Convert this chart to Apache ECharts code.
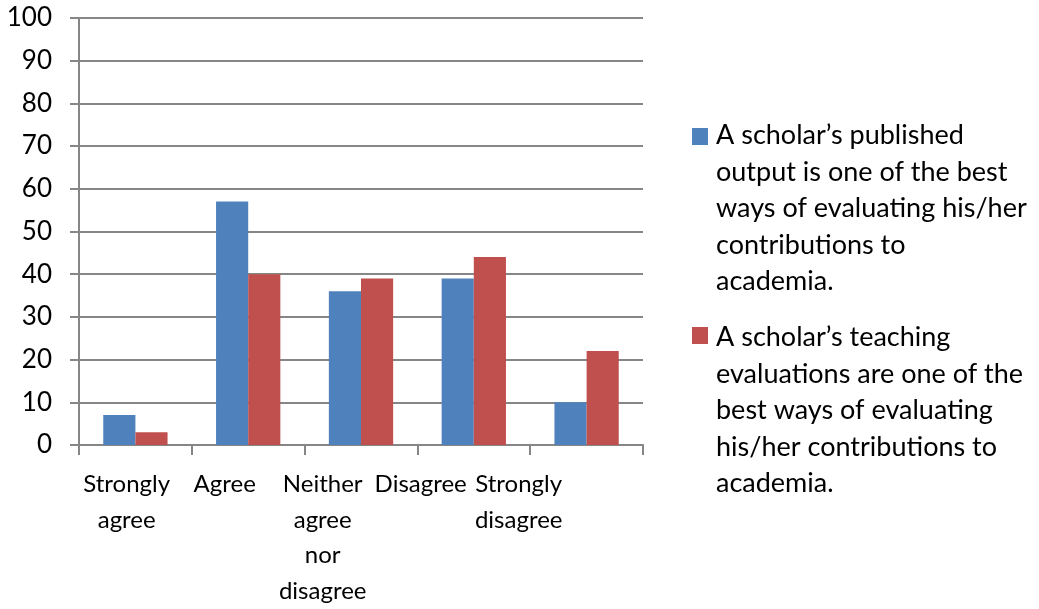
<!DOCTYPE html>
<html>
<head>
<meta charset="utf-8">
<script src="https://cdn.jsdelivr.net/npm/echarts@6/dist/echarts.min.js"></script>
<style>
html,body{margin:0;padding:0;background:#fff;}
#chart{width:1039px;height:609px;}
</style>
</head>
<body>
<div id="chart"></div>
<script>
const categories = ['Strongly\nagree', 'Agree', 'Neither\nagree\nnor\ndisagree', 'Disagree', 'Strongly\ndisagree'];
const seriesNames = [
  'A scholar\u2019s published\noutput is one of the best\nways of evaluating his/her\ncontributions to\nacademia.',
  'A scholar\u2019s teaching\nevaluations are one of the\nbest ways of evaluating\nhis/her contributions to\nacademia.'
];
const publishedValues = [7, 57, 36, 39, 10];
const teachingValues = [3, 40, 39, 44, 22];
const yTicks = [0, 10, 20, 30, 40, 50, 60, 70, 80, 90, 100];
const colors = ['#4F81BD', '#C0504D'];

const FONT = 'Lato';
const gridColor = '#868686';

const legendTops = [117, 319];
const iconTops = [128, 327];
const legendGraphics = [];
seriesNames.forEach((name, i) => {
  legendGraphics.push({
    type: 'rect', left: 692, top: iconTops[i], shape: { width: 16, height: 17 },
    style: { fill: colors[i] }
  });
  legendGraphics.push({
    type: 'text', left: 716, top: legendTops[i],
    style: { text: name, font: '27px ' + FONT, fill: '#000', lineHeight: 36.6 }
  });
});

const chart = echarts.init(document.getElementById('chart'), null, { renderer: 'canvas' });
chart.setOption({
  animation: false,
  backgroundColor: '#fff',
  textStyle: { fontFamily: FONT },
  grid: [
    { left: 79, right: 396, top: 18, bottom: 164, containLabel: false },
    { left: 77.7, width: 490, top: 18, bottom: 164, containLabel: false }
  ],
  xAxis: [
    {
      type: 'category', data: categories, gridIndex: 0,
      axisLine: { show: true, lineStyle: { color: gridColor, width: 2 } },
      axisTick: { show: true, length: 10, lineStyle: { color: gridColor, width: 2 } },
      axisLabel: { show: false }
    },
    {
      type: 'category', data: categories, gridIndex: 1,
      axisLine: { show: false }, axisTick: { show: false },
      axisLabel: { show: true, interval: 0, margin: 22, fontFamily: FONT, fontSize: 24, color: '#000', lineHeight: 35.5, align: 'center' }
    }
  ],
  yAxis: [
    {
      type: 'value', gridIndex: 0, min: yTicks[0], max: yTicks[yTicks.length - 1], interval: 10,
      axisLine: { show: true, lineStyle: { color: gridColor, width: 2 } },
      axisTick: { show: true, length: 9, lineStyle: { color: gridColor, width: 2 } },
      splitLine: { show: true, lineStyle: { color: gridColor, width: 2 } },
      axisLabel: { margin: 27, fontFamily: FONT, fontSize: 26, color: '#000' }
    },
    {
      type: 'value', gridIndex: 1, min: 0, max: 100, show: false
    }
  ],
  series: [
    {
      name: seriesNames[0], type: 'bar', data: publishedValues, xAxisIndex: 0, yAxisIndex: 0,
      itemStyle: { color: colors[0] }, barGap: '0%', barCategoryGap: '43%'
    },
    {
      name: seriesNames[1], type: 'bar', data: teachingValues, xAxisIndex: 0, yAxisIndex: 0,
      itemStyle: { color: colors[1] }, barGap: '0%', barCategoryGap: '43%'
    }
  ],
  graphic: legendGraphics
});
</script>
</body>
</html>
